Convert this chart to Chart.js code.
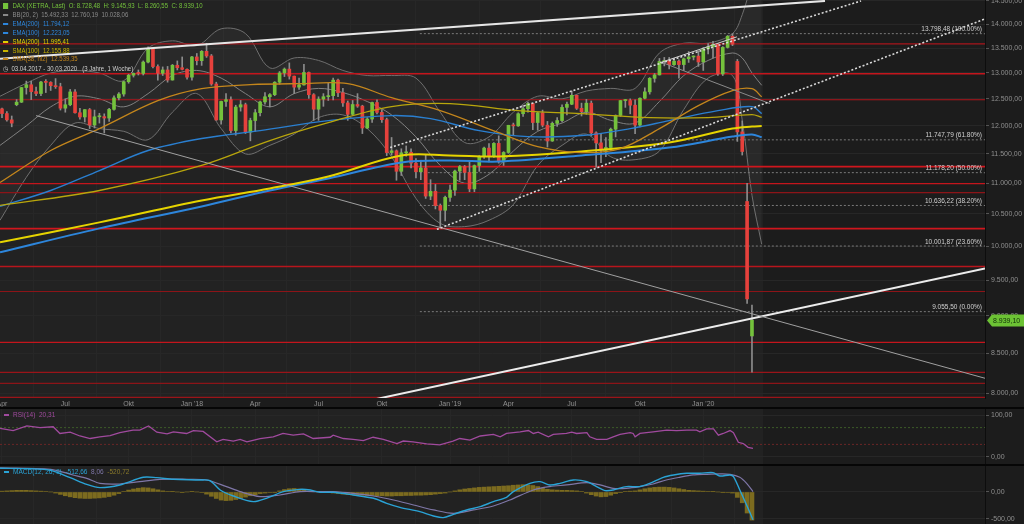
<!DOCTYPE html>
<html>
<head>
<meta charset="utf-8">
<script src="https://cdn.jsdelivr.net/npm/chart.js@4.4.1/dist/chart.umd.min.js"></script>
<style>
  html, body { margin: 0; padding: 0; background: #1c1c1c; }
  #wrap { position: relative; width: 1024px; height: 524px; overflow: hidden; background: #1c1c1c;
          font-family: 'Liberation Sans', Arial, sans-serif; }
  .pane { position: absolute; left: 0; width: 1024px; }
  #mainBox { top: 0; height: 407px; }
  #rsiBox  { top: 409px; height: 55px; }
  #macdBox { top: 466px; height: 58px; }
  .sep { position: absolute; left: 0; width: 1024px; height: 2px; background: #060606; }
  .lg { position: absolute; left: 3px; font-size: 7px; line-height: 8px; white-space: pre;
        transform: scaleX(0.86); transform-origin: left center; }
  .lg i { display: inline-block; width: 6px; height: 2px; vertical-align: middle; margin-right: 5px; }
  .sub { position: absolute; left: 4px; font-size: 6.5px; line-height: 7px; white-space: pre; }
  .sub i { display: inline-block; width: 5px; height: 2px; vertical-align: middle; margin-right: 4px; }
</style>
</head>
<body>
<div id="wrap">
  <div class="pane" id="mainBox"><canvas id="mainChart"></canvas></div>
  <div class="sep" style="top:407px"></div>
  <div class="pane" id="rsiBox"><canvas id="rsiChart"></canvas></div>
  <div class="sep" style="top:464px"></div>
  <div class="pane" id="macdBox"><canvas id="macdChart"></canvas></div>

  <div class="lg" style="top:2px;color:#74c23c"><i style="background:#74c23c;width:6px;height:6px"></i>DAX (XETRA, Last)  O: 8.728,48  H: 9.145,93  L: 8.260,55  C: 8.939,10</div>
  <div class="lg" style="top:11px;color:#8a8a8a"><i style="background:#8a8a8a"></i>BB(20, 2)  15.492,33  12.760,19  10.028,06</div>
  <div class="lg" style="top:20px;color:#2d86dc"><i style="background:#2d86dc"></i>EMA(200)  11.794,12</div>
  <div class="lg" style="top:29px;color:#2d86dc"><i style="background:#2d86dc"></i>EMA(100)  12.223,05</div>
  <div class="lg" style="top:38px;color:#e2d000"><i style="background:#e2d000"></i>SMA(200)  11.995,41</div>
  <div class="lg" style="top:47px;color:#c9b400"><i style="background:#c9b400"></i>SMA(100)  12.155,88</div>
  <div class="lg" style="top:55px;color:#c4861c"><i style="background:#c4861c"></i>SMA(38, hl2)  12.539,35</div>
  <div class="lg" style="top:65px;color:#cfcfcf">&#9719;  03.04.2017 - 30.03.2020   (3 Jahre, 1 Woche)</div>

  <div class="sub" style="top:411px;color:#a04a9e"><i style="background:#a04a9e"></i>RSI(14)  20,31</div>
  <div class="sub" style="top:468px;color:#2aa3d6"><i style="background:#2aa3d6"></i>MACD(12, 26, 9)  -512,66  <span style="color:#7f77a8">8,06</span>  <span style="color:#8a7a2a">-520,72</span></div>
</div>

<script>
// ============================================================
// DAX weekly – 03.04.2017 .. 16.03.2020 (one candle per week)
// ============================================================

const FONT = "'Liberation Sans', Arial, sans-serif";

/* ── Candles (week index 0..154) ───────────────────────── */
const opens = [
  12312,12225,12109,12391,12438,12716,12770,12638,12602,12823,12816,12753,12733,12325,12389,12632,12240,12162,12298,12014,
  12165,12168,12142,12303,12519,12592,12829,12956,12992,12991,13217,13479,13127,12994,13060,12862,13153,13104,13072,
  12918,13320,13245,13434,13340,12785,12107,12452,12484,11914,12346,12390,11886,12097,12241,12442,12540,12580,12820,13001,
  13077,12938,12724,12767,13010,12579,12306,12496,12541,12561,12860,12616,12424,12211,12394,12364,11960,12124,12431,12247,
  12112,11524,11554,11201,11519,11529,11341,11193,11257,10788,10866,10634,
  10559,10767,10887,11205,11281,11181,10906,11299,11457,11602,11458,11685,11364,11526,12010,11999,12222,12315,12413,12060,
  12238,12011,11727,12045,12096,12340,12399,12568,12323,12260,12419,11872,11694,11563,11612,11939,12191,12468,12468,12381,
  12013,12512,12634,12895,12962,13229,13242,13164,13236,13167,13283,13319,13337,
  13219,13483,13526,13577,12982,13514,13745,13230,11890,10700,8728
];
const highs = [
  12325,12262,12180,12487,12722,12841,12840,12724,12836,12870,12830,12890,12800,12500,12680,12675,12320,12300,12320,12290,
  12230,12220,12320,12560,12620,12840,12975,13000,13060,13240,13525,13480,13160,13120,13130,13170,13240,13320,13080,
  13330,13390,13450,13597,13370,12820,12460,12600,12540,12380,12470,12420,12140,12300,12460,12620,12600,12830,13030,13100,
  13200,12940,12900,13170,13020,12600,12540,12600,12800,12900,12880,12700,12460,12470,12600,12380,12150,12440,12480,12300,
  12140,11790,11570,11590,11640,11590,11420,11390,11480,11060,10980,10660,
  10790,10970,11220,11300,11300,11370,11310,11470,11620,11680,11700,11820,11540,12010,12050,12240,12380,12440,12420,12250,
  12290,12080,12070,12150,12390,12440,12650,12570,12420,12490,12460,11890,11860,11790,11960,12200,12470,12490,12500,12480,
  12520,12710,12910,12990,13290,13310,13310,13290,13260,13300,13430,13340,13440,
  13510,13590,13640,13590,13530,13760,13795,13270,12090,11000,9146
];
const lows = [
  12150,12085,11982,12370,12430,12590,12486,12560,12560,12620,12660,12700,12290,12250,12370,12230,12120,12070,11950,11960,
  12050,11870,12080,12290,12480,12550,12800,12920,12960,12960,13200,13100,12860,12950,12820,12860,13060,13060,12880,
  12860,13160,13150,13310,12760,12100,12030,12360,11870,11830,12270,11860,11730,11900,12180,12400,12350,12560,12780,12930,
  12880,12600,12680,12760,12510,12100,12100,12360,12470,12480,12540,12360,12100,12190,12340,11860,11950,12060,12220,12060,
  11470,11480,11050,11130,11460,11260,11090,11060,10750,10730,10580,10279,
  10390,10700,10800,11050,11060,10860,10860,11200,11420,11360,11440,11340,11300,11510,11840,11990,12170,12250,11930,11920,
  11980,11620,11720,11990,12070,12200,12390,12300,12180,12210,11820,11270,11350,11450,11560,11800,12170,12340,12220,11860,
  11980,12500,12590,12820,12960,13140,13080,13150,12900,13050,13210,13260,13130,
  13050,13380,13300,12950,12950,13500,13550,11720,11480,9170,8261
];
const closes = [
  12225,12109,12049,12438,12716,12770,12638,12602,12823,12816,12753,12733,12325,12389,12632,12240,12162,12298,12014,12165,
  12168,12142,12303,12519,12592,12829,12956,12992,12991,13217,13479,13127,12994,13060,12862,13153,13104,13072,12918,
  13320,13245,13434,13340,12785,12107,12452,12484,11914,12346,12390,11886,12097,12241,12442,12540,12580,12820,13001,13077,
  12938,12724,12767,13010,12579,12306,12496,12541,12561,12860,12616,12424,12211,12394,12364,11960,12124,12431,12247,12112,
  11524,11554,11201,11519,11529,11341,11193,11257,10788,10866,10634,10559,
  10767,10887,11205,11281,11181,10906,11299,11457,11602,11458,11685,11364,11526,12010,11999,12222,12315,12413,12060,12238,
  12011,11727,12045,12096,12340,12399,12568,12323,12260,12419,11872,11694,11563,11612,11939,12191,12468,12468,12381,12013,
  12512,12634,12895,12962,13229,13242,13164,13236,13167,13283,13319,13337,13219,
  13483,13526,13577,12982,13514,13745,13579,11890,11542,9232,8939.10
];

/* ── Axis ticks ────────────────────────────────────────── */
const xTickIdx    = [0, 13, 26, 39, 52, 65, 78, 92, 104, 117, 131, 144];
const xTickLabels = ['Apr', 'Jul', 'Okt', "Jan '18", 'Apr', 'Jul', 'Okt', "Jan '19", 'Apr', 'Jul', 'Okt', "Jan '20"];
const priceTicks  = [8000, 8500, 9000, 9500, 10000, 10500, 11000, 11500, 12000, 12500, 13000, 13500, 14000, 14500];
const rsiTicks    = [0, 100];
const macdTicks   = [-500, 0];

/* ── Overlays (week index, value) ──────────────────────── */
const ema200X = [-0.4, 20, 41, 55, 67, 82, 92, 102, 119, 137, 150, 154, 156];
const ema200  = [9907, 10273, 10620, 10880, 11080, 11351, 11385, 11368, 11472, 11611, 11806, 11842, 11794];
const sma200X = [-0.4, 20, 41, 55, 67, 82, 92, 102, 119, 137, 150, 154, 156];
const sma200  = [10058, 10367, 10717, 10913, 11113, 11472, 11472, 11455, 11542, 11700, 11950, 11986, 11995];
const ema100X = [-0.4, 10, 20, 30, 41, 53, 67, 80, 88, 98, 108, 119, 129, 137, 147, 154, 156];
const ema100  = [10620, 10880, 11214, 11559, 11771, 11913, 12095, 12187, 12132, 11913, 11806, 11824, 11949, 12095, 12279, 12354, 12223];
const sma100X = [-0.4, 20, 41, 55, 67, 80, 92, 106, 119, 133, 145, 154, 156];
const sma100  = [10636, 10880, 11300, 11735, 12058, 12354, 12410, 12279, 12224, 12150, 12150, 12205, 12156];
const sma38X  = [-0.4, 10, 20, 32, 41, 51, 61, 71, 80, 90, 102, 110, 119, 127, 135, 143, 150, 154, 156];
const sma38   = [11013, 11559, 11949, 12466, 12694, 12771, 12791, 12791, 12522, 12279, 11877, 11629, 11524, 11594, 11949, 12372, 12656, 12694, 12539];

const bbX   = [-0.4, 5, 10, 15, 20, 25, 30, 35, 40, 45, 50, 55, 60, 65, 70, 75, 80, 85, 90, 95, 100, 105, 110, 115, 120, 125, 130, 135, 140, 145, 150, 152, 154, 156];
const bbUp  = [12550, 12800, 13000, 13050, 13000, 12850, 13500, 13650, 13550, 13900, 13800, 13100, 13300, 13250, 13050, 12950, 12950, 12900, 12250, 11700, 11800, 12250, 12550, 12500, 12650, 12700, 12700, 13400, 13600, 13600, 13800, 14200, 14900, 15492];
const bbMid = [11650, 12000, 12350, 12550, 12500, 12350, 12600, 12950, 13050, 12900, 12600, 12350, 12600, 12700, 12620, 12450, 12200, 11800, 11300, 11000, 11150, 11550, 11900, 12050, 12250, 12100, 12050, 12450, 12950, 13250, 13400, 13300, 13000, 12760];
const bbLow = [10400, 11100, 11650, 12050, 11950, 11900, 11750, 12250, 12600, 11950, 11500, 11650, 11850, 12150, 12200, 11950, 11450, 10750, 10350, 10300, 10400, 10650, 11300, 11650, 11850, 11450, 11400, 11550, 12300, 12900, 12950, 12100, 10800, 10028];

/* ── Horizontal levels ─────────────────────────────────── */
const redLevels = [13587, 12984, 12483, 11280, 10994, 10845, 10270, 9696, 9337, 8644, 8259, 8123, 7953];
const fibLevels = [13798.48, 11747.79, 11178.20, 10636.22, 10001.87, 9055.50];
const fibPct    = ['100.00%', '61.80%', '50.00%', '38.20%', '23.60%', '0.00%'];

/* ── Trend lines: [[week, price], [week, price]] ───────── */
const trendTopWhite  = [[-0.41, 13282], [169, 14500]];
const trendChanUpper = [[79.7, 11611], [176.4, 14500]];
const trendChanLower = [[89.3, 10258], [201.85, 14110]];
const trendDownGray  = [[7.0, 12187], [201.85, 8186]];
const trendUpWhite   = [[69.6, 7842], [201.85, 9667]];
const trendTopShort  = [[135.1, 13202], [150.9, 13732]];
const trendTopGray   = [[135.7, 13202], [157.7, 12410]];

/* ── RSI(14) ───────────────────────────────────────────── */
const rsiX = [-0.4,2.3,5.1,7.8,10.5,11.9,14,16,18.1,20.1,22.2,24.2,26.9,28.3,30.1,31.8,33.9,35.2,37.9,39.3,
  41.3,44.1,45.4,47.5,48.9,50.3,53,55.7,57.7,59.8,61.9,63.9,67.4,68,70.1,72.1,74.2,76.2,78.3,81.1,
  82.4,84.4,87.2,89.9,92.6,94,96.1,98.2,100.9,102.3,103.6,106.4,108.1,109.1,110.1,112.2,113.2,115.9,117,118,
  120.1,120.7,122.1,124.2,125.5,126.9,129,129.6,130,131,133.7,136.5,138.5,140.6,142.6,143.3,144.7,146.1,147.1,148.1,
  149.5,150.2,151.2,152.2,153.2,154.2];
const rsiVal = [68,63,74,70,72,56,59,50,44,48,51,58,64,64,74,59,55,60,56,63,
  61,36,42,38,42,36,44,48,56,52,55,44,47,52,44,42,39,47,42,32,
  38,36,31,29,38,44,40,50,54,48,56,60,63,56,59,48,54,56,59,56,
  58,48,42,42,48,54,58,56,48,56,60,64,63,64,64,60,67,67,52,56,
  63,58,35,32,23,20.31];
const rsiUpper = 70, rsiLower = 30;

/* ── MACD(12, 26, 9) ───────────────────────────────────── */
const macdX = [-0.4,6,10,14,17.4,20.1,24.2,29,31.8,35.2,40.7,42.7,44.8,47.5,51.6,54.3,57.8,61.2,63.3,65.3,
  68,72.1,76.3,79,81.7,85.8,88.6,90.6,92.7,95.4,98.2,100.9,103.6,105,108.4,110.5,112.5,114.6,117.3,120.1,
  122.1,123.8,125.5,128.2,130.9,133,135.8,137.9,140.6,143.3,146,147.4,149.5,150.2,151.5,152.9,154.2];
const macdVal = [440,430,400,265,140,80,130,272,265,235,222,210,37,-74,-179,-117,6,49,37,-6,
  -6,-56,-117,-210,-284,-364,-444,-475,-414,-333,-272,-179,-99,6,160,191,130,160,222,191,
  99,25,37,99,99,160,272,315,346,346,358,296,315,284,37,-241,-512.66];
const signalX = [-0.4,10,14.6,17.4,20.1,24.2,28.3,32.4,37.9,42,46.1,48.9,53,57.1,61.2,65.3,68,72.1,76.3,80.4,
  84.5,88.6,92.7,96.8,100.9,104.3,109.1,112.5,115.9,120.1,122.8,125.5,128.2,130.9,133.7,136.4,139.1,141.9,144.6,147.4,
  149.5,151.5,152.9,154.2];
const signalVal = [445,420,315,253,160,148,191,235,235,222,99,6,-86,-56,6,6,6,-25,-74,-148,
  -241,-333,-395,-333,-259,-148,37,99,130,173,130,68,68,99,148,222,272,315,327,334,
  327,272,160,8.06];
const macdHist = [
  15,20,25,30,30,30,25,20,15,10,0,
  -20,-45,-70,-90,-105,-115,-120,-120,-115,-110,-100,-85,-60,-30,
  10,35,55,70,80,75,60,40,20,
  10,5,0,-5,0,5,0,-10,
  -40,-80,-120,-150,-160,-155,-140,-120,-95,-70,-50,
  -30,-20,-10,-5,
  20,45,60,65,55,35,
  15,5,0,-5,-10,
  -20,-30,-40,-50,-55,-60,-60,-65,-65,-70,-70,-75,-75,-70,-70,-65,-65,-60,-60,-55,-50,-40,-30,-20,
  0,20,40,55,65,75,85,90,95,100,105,110,115,125,130,
  135,130,120,100,75,
  50,40,35,30,30,25,20,10,
  -20,-50,-75,-90,-85,-60,-30,-5,
  10,15,20,
  40,60,75,85,90,90,85,75,60,45,
  30,25,20,15,10,5,0,-5,
  -10,-20,-100,-200,-390,-520.72
];

/* ── Helpers ───────────────────────────────────────────── */
const N      = closes.length;
const X_MIN  = -0.41;
const X_MAX  = 201.85;
const GREEN  = '#74c23c';
const RED    = '#e6413c';
const GRID   = '#272727';
const TXT    = '#8f8f8f';

function fmt(v) {
  const parts = Math.abs(v).toFixed(2).split('.');
  const int = parts[0].replace(/\B(?=(\d{3})+(?!\d))/g, '.');
  return (v < 0 ? '-' : '') + int + ',' + parts[1];
}
const zip = (xs, ys) => xs.map((x, i) => ({ x, y: ys[i] }));
const seg = pair => pair.map(p => ({ x: p[0], y: p[1] }));
const level = v => [{ x: X_MIN, y: v }, { x: X_MAX, y: v }];

function line(data, color, width, extra) {
  return Object.assign({
    type: 'line', data, borderColor: color, borderWidth: width,
    pointRadius: 0, fill: false, tension: 0
  }, extra || {});
}

function xScale(showLabels) {
  return {
    type: 'linear', min: X_MIN, max: X_MAX, offset: false,
    afterBuildTicks: s => { s.ticks = xTickIdx.map(v => ({ value: v })); },
    afterFit: s => { s.height = showLabels ? 9 : 0; s.paddingLeft = 0; s.paddingRight = 0; },
    grid: { color: GRID, drawTicks: false },
    border: { display: false },
    ticks: {
      display: showLabels, autoSkip: false, maxRotation: 0, padding: 2,
      color: TXT, font: { size: 7, family: FONT },
      callback: v => { const k = xTickIdx.indexOf(v); return k < 0 ? '' : xTickLabels[k]; }
    }
  };
}

function yScale(extra, ticks) {
  return Object.assign({
    position: 'right',
    afterBuildTicks: s => { s.ticks = ticks.map(v => ({ value: v })); },
    afterFit: s => { s.width = 39; s.paddingTop = 0; s.paddingBottom = 0; },
    grid: { color: GRID, tickLength: 4, tickColor: '#555' },
    border: { color: '#0d0d0d' },
    ticks: { color: TXT, font: { size: 7, family: FONT }, padding: 2, autoSkip: false, callback: v => fmt(v) }
  }, extra);
}

/* ── Plugins ───────────────────────────────────────────── */
const bgPlugin = {
  id: 'bg',
  beforeDraw(chart) {
    const { ctx, chartArea: a, scales: { x } } = chart;
    ctx.save();
    ctx.fillStyle = '#1c1c1c';
    ctx.fillRect(0, 0, chart.width, chart.height);
    const xr = x.getPixelForValue(N + 1.3);
    ctx.fillStyle = '#222222';
    ctx.fillRect(a.left, a.top, xr - a.left, a.bottom - a.top);
    ctx.restore();
  }
};

const fibPlugin = {
  id: 'fibLabels',
  afterDatasetsDraw(chart) {
    const { ctx, chartArea: a, scales: { y } } = chart;
    ctx.save();
    ctx.font = '6.5px ' + FONT;
    ctx.fillStyle = '#d2d2d2';
    ctx.textAlign = 'right';
    ctx.textBaseline = 'bottom';
    fibLevels.forEach((v, i) => {
      ctx.fillText(fmt(v) + ' (' + fibPct[i] + ')', a.right - 3, y.getPixelForValue(v) - 1);
    });
    ctx.restore();
  }
};

const priceTagPlugin = {
  id: 'priceTag',
  afterDraw(chart) {
    const { ctx, chartArea: a, scales: { y } } = chart;
    const last = closes[N - 1];
    const py = Math.round(y.getPixelForValue(last)) + 0.5;
    const x0 = a.right + 2;
    ctx.save();
    ctx.fillStyle = '#6cc234';
    ctx.beginPath();
    ctx.moveTo(x0, py);
    ctx.lineTo(x0 + 5, py - 6);
    ctx.lineTo(chart.width, py - 6);
    ctx.lineTo(chart.width, py + 6);
    ctx.lineTo(x0 + 5, py + 6);
    ctx.closePath();
    ctx.fill();
    ctx.fillStyle = '#12300a';
    ctx.font = '7px ' + FONT;
    ctx.textBaseline = 'middle';
    ctx.fillText(fmt(last), x0 + 6, py + 0.5);
    ctx.restore();
  }
};

/* ── Main price chart ──────────────────────────────────── */
function renderMain() {
  const idx = closes.map((_, i) => i);
  const bodyColors = closes.map((c, i) => c >= opens[i] ? GREEN : RED);
  const redWidths = [1.3, 1.5, 1.2, 1.7, 1.4, 1.2, 1.9, 1.4, 1.1, 1.4, 1.2, 1.1, 1.3];
  const redColors = ['#a8141b', '#c4151c', '#b0141b', '#d0161d', '#c4151c', '#8c1418', '#d0161d',
                     '#b8151c', '#8c1418', '#c4151c', '#9a1419', '#8c1418', '#9a1419'];

  const datasets = [];

  // trend lines (top-most)
  datasets.push(line(seg(trendTopWhite),  '#e6e6e6', 2,   { order: 0 }));
  datasets.push(line(seg(trendChanUpper), '#d8d8d8', 1.6, { order: 0, borderDash: [2, 2] }));
  datasets.push(line(seg(trendChanLower), '#d8d8d8', 1.6, { order: 0, borderDash: [2, 2] }));
  datasets.push(line(seg(trendDownGray),  '#a0a0a0', 1,   { order: 0 }));
  datasets.push(line(seg(trendUpWhite),   '#ececec', 2,   { order: 0 }));
  datasets.push(line(seg(trendTopShort),  '#d0d0d0', 1,   { order: 0 }));
  datasets.push(line(seg(trendTopGray),   '#8a8a8a', 1,   { order: 0 }));

  // moving averages
  datasets.push(line(zip(sma38X,  sma38),  '#c4861c', 1.3, { order: 1, tension: 0.35 }));
  datasets.push(line(zip(sma100X, sma100), '#b9a60c', 1.3, { order: 1, tension: 0.35 }));
  datasets.push(line(zip(ema100X, ema100), '#2a7fd0', 1.4, { order: 1, tension: 0.35 }));
  datasets.push(line(zip(sma200X, sma200), '#e6d400', 2,   { order: 1, tension: 0.35 }));
  datasets.push(line(zip(ema200X, ema200), '#2d86dc', 2,   { order: 1, tension: 0.35 }));

  // candles
  datasets.push({
    type: 'bar', order: 2, grouped: false, barThickness: 3, minBarLength: 1,
    data: idx.map(i => ({ x: i, y: [opens[i], closes[i]] })),
    backgroundColor: bodyColors
  });
  datasets.push({
    type: 'bar', order: 3, grouped: false, barThickness: 1,
    data: idx.map(i => ({ x: i, y: [lows[i], highs[i]] })),
    backgroundColor: '#8c8c8c'
  });

  // horizontal support / resistance levels
  redLevels.forEach((v, i) => datasets.push(line(level(v), redColors[i], redWidths[i], { order: 4 })));

  // fibonacci levels
  fibLevels.forEach(v => datasets.push(line([{ x: 85.8, y: v }, { x: X_MAX, y: v }], '#7a7a7a', 1,
    { order: 5, borderDash: [2, 2] })));

  // bollinger bands
  datasets.push(line(zip(bbX, bbUp),  '#6e6e6e', 1, { order: 6, tension: 0.35, fill: '+2', backgroundColor: 'rgba(255,255,255,0.035)' }));
  datasets.push(line(zip(bbX, bbMid), '#7c7c7c', 1, { order: 6, tension: 0.35 }));
  datasets.push(line(zip(bbX, bbLow), '#6e6e6e', 1, { order: 6, tension: 0.35 }));

  new Chart(document.getElementById('mainChart'), {
    type: 'bar',
    data: { datasets },
    options: {
      responsive: true, maintainAspectRatio: false, animation: false, devicePixelRatio: 1,
      layout: { padding: 0 },
      plugins: { legend: { display: false }, tooltip: { enabled: false } },
      scales: {
        x: xScale(true),
        y: yScale({ type: 'logarithmic', min: 7945, max: 14520 }, priceTicks)
      }
    },
    plugins: [bgPlugin, fibPlugin, priceTagPlugin]
  });
}

/* ── RSI panel ─────────────────────────────────────────── */
function renderRsi() {
  new Chart(document.getElementById('rsiChart'), {
    type: 'line',
    data: {
      datasets: [
        line(zip(rsiX, rsiVal), '#a04a9e', 1.3, { order: 0 }),
        line(level(rsiUpper), '#3c5a28', 1, { order: 1, borderDash: [2, 2] }),
        line(level(rsiLower), '#6a2626', 1, { order: 1, borderDash: [2, 2] })
      ]
    },
    options: {
      responsive: true, maintainAspectRatio: false, animation: false, devicePixelRatio: 1,
      layout: { padding: 0 },
      plugins: { legend: { display: false }, tooltip: { enabled: false } },
      scales: {
        x: xScale(false),
        y: yScale({ type: 'linear', min: -16.7, max: 114.3 }, rsiTicks)
      }
    },
    plugins: [bgPlugin]
  });
}

/* ── MACD panel ────────────────────────────────────────── */
function renderMacd() {
  new Chart(document.getElementById('macdChart'), {
    type: 'bar',
    data: {
      datasets: [
        line(zip(macdX, macdVal),     '#2aa3d6', 1.4, { order: 0, tension: 0.3 }),
        line(zip(signalX, signalVal), '#7f77a8', 1.2, { order: 1, tension: 0.3 }),
        {
          type: 'bar', order: 2, grouped: false, barThickness: 4,
          data: macdHist.map((v, i) => ({ x: i, y: v })),
          backgroundColor: '#7c6b1f'
        }
      ]
    },
    options: {
      responsive: true, maintainAspectRatio: false, animation: false, devicePixelRatio: 1,
      layout: { padding: 0 },
      plugins: { legend: { display: false }, tooltip: { enabled: false } },
      scales: {
        x: xScale(false),
        y: yScale({ type: 'linear', min: -593, max: 481 }, macdTicks)
      }
    },
    plugins: [bgPlugin]
  });
}

renderMain();
renderRsi();
renderMacd();
</script>
</body>
</html>
